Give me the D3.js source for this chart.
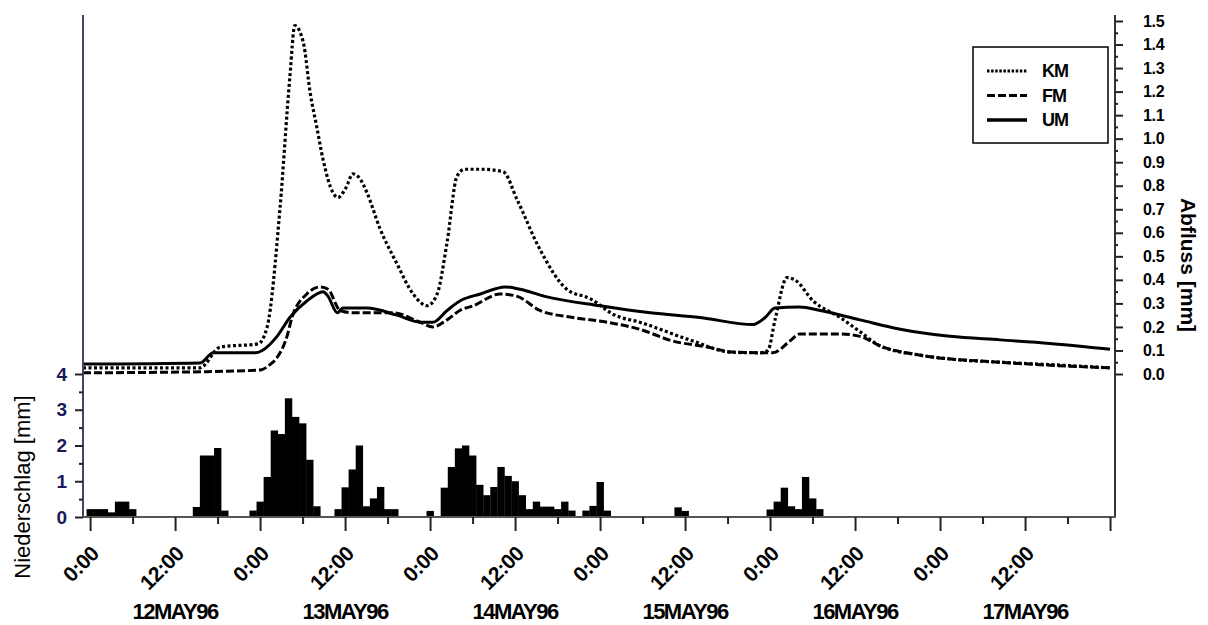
<!DOCTYPE html>
<html>
<head>
<meta charset="utf-8">
<script src="https://cdn.jsdelivr.net/npm/d3@7"></script>
<style>
  body { margin: 0; background: #fff; }
  svg { display: block; font-family: "Liberation Sans", Arial, sans-serif; }
</style>
</head>
<body>
<svg id="chart" width="1208" height="625"></svg>
<script>
// hours are counted from 12MAY96 0:00
const t0 = Date.UTC(1996, 4, 12, 0);
const hour = h => new Date(t0 + h * 3600e3);

// hourly precipitation [mm], hour 0 .. 103
const rain = [
  0.22, 0.22, 0.22, 0.13, 0.43, 0.43, 0.22, 0, 0, 0, 0, 0, 0, 0, 0, 0.28,
  1.72, 1.72, 1.93, 0.18, 0, 0, 0, 0.18, 0.43, 1.12, 2.42, 2.32, 3.32, 2.8,
  2.62, 1.6, 0.3, 0, 0, 0.22, 0.83, 1.33, 2.0, 0.3, 0.52, 0.84, 0.22, 0.22,
  0, 0, 0, 0, 0.17, 0, 0.82, 1.4, 1.92, 2.0, 1.72, 0.9, 0.61, 0.84, 1.4,
  1.15, 1.0, 0.61, 0.22, 0.43, 0.29, 0.29, 0.22, 0.43, 0.18, 0, 0.18, 0.31,
  0.98, 0.18, 0, 0, 0, 0, 0, 0, 0, 0, 0, 0.27, 0.17, 0, 0, 0, 0, 0, 0, 0,
  0, 0, 0, 0, 0.21, 0.43, 0.82, 0.3, 0.22, 1.12, 0.52, 0.22
];

// discharge [mm] as [hour, value]
const km = [
  [-1, 0.026], [15.5, 0.026], [18.4, 0.115], [23.7, 0.128], [25, 0.2], [26.8, 0.7],
  [28.2, 1.26], [28.9, 1.48], [30.1, 1.41], [31.1, 1.19], [32, 1.05], [32.9, 0.91],
  [34.3, 0.77], [35, 0.75], [36.1, 0.79], [37.1, 0.85], [38.1, 0.83], [39.1, 0.77],
  [40.9, 0.62], [43.3, 0.47], [45.6, 0.34], [47.6, 0.29], [49, 0.34], [50.4, 0.56],
  [51.8, 0.84], [52.9, 0.87], [55.1, 0.87], [58.3, 0.86], [60.3, 0.74], [63.5, 0.53],
  [67.3, 0.36], [70.6, 0.32], [74.1, 0.25], [77.6, 0.22], [85.1, 0.14], [90.4, 0.093],
  [94.6, 0.09], [95.7, 0.1], [96.7, 0.23], [98.4, 0.41], [99.5, 0.4], [102.1, 0.31],
  [105.9, 0.24], [108.7, 0.18], [111.5, 0.12], [117.2, 0.08], [122.8, 0.06],
  [128.5, 0.05], [135.5, 0.04], [144, 0.026]
];
const fm = [
  [-1, 0.005], [16.5, 0.01], [24, 0.017], [25.4, 0.04], [26.4, 0.07], [27.8, 0.16],
  [28.5, 0.24], [30.6, 0.34], [32.5, 0.37], [33.6, 0.36], [35.3, 0.27], [37.1, 0.26],
  [42.8, 0.26], [46.6, 0.22], [48.4, 0.2], [50.4, 0.23], [52.2, 0.27], [54.1, 0.29],
  [57.9, 0.34], [60.3, 0.33], [63.5, 0.27], [68.2, 0.24], [73, 0.22], [77.6, 0.19],
  [82.3, 0.14], [87.1, 0.115], [90.8, 0.093], [96.4, 0.09], [98.8, 0.14], [100.2, 0.17],
  [105.9, 0.17], [108.7, 0.16], [111.5, 0.12], [117.2, 0.08], [128.5, 0.05], [144, 0.026]
];
const um = [
  [-1, 0.042], [15.5, 0.047], [17.4, 0.09], [23.3, 0.09], [24.3, 0.1], [26.4, 0.16],
  [28.2, 0.24], [30.6, 0.31], [32.9, 0.35], [33.6, 0.33], [34.9, 0.26], [35.7, 0.28],
  [39.1, 0.28], [43.3, 0.25], [46.6, 0.22], [48.4, 0.22], [50.4, 0.27], [52.2, 0.31],
  [55.1, 0.34], [58.6, 0.37], [60.7, 0.36], [64.2, 0.33], [72, 0.29], [79.1, 0.26],
  [86.1, 0.24], [93.6, 0.21], [95.3, 0.24], [96.7, 0.28], [100.2, 0.285], [103.1, 0.27],
  [108.7, 0.23], [114.4, 0.19], [121.4, 0.16], [128.5, 0.145], [135.5, 0.13], [144, 0.105]
];

const dayLabels = ["12MAY96", "13MAY96", "14MAY96", "15MAY96", "16MAY96", "17MAY96"];
const rainTicks = [0, 1, 2, 3, 4];
const flowTicks = d3.range(0, 16).map(i => i / 10);

const series = [
  { name: "KM", data: km, dash: "3,2.5" },
  { name: "FM", data: fm, dash: "8,3" },
  { name: "UM", data: um, dash: null }
];

const svg = d3.select("#chart");

const x = d3.scaleUtc().domain([hour(-1), hour(144.7)]).range([83, 1115]);
const yRain = d3.scaleLinear().domain([0, 4]).range([517, 374]);
const yFlow = d3.scaleLinear().domain([0, 1.5]).range([374, 21]);

// bars
svg.append("g")
  .selectAll("rect")
  .data(rain.map((v, i) => ({ h: i, v })).filter(d => d.v > 0))
  .join("rect")
    .attr("x", d => x(hour(d.h - 0.5)))
    .attr("width", d => x(hour(d.h + 0.5)) - x(hour(d.h - 0.5)) + 0.3)
    .attr("y", d => yRain(d.v))
    .attr("height", d => yRain(0) - yRain(d.v))
    .attr("fill", "#000");

// discharge lines
const line = d3.line()
  .x(d => x(hour(d[0])))
  .y(d => yFlow(d[1]))
  .curve(d3.curveMonotoneX);

svg.append("g")
  .selectAll("path")
  .data(series)
  .join("path")
    .attr("d", d => line(d.data))
    .attr("fill", "none")
    .attr("stroke", "#000")
    .attr("stroke-width", d => d.name === "KM" ? 3.2 : 3)
    .attr("stroke-dasharray", d => d.dash);

// frame lines
svg.append("line").attr("x1", 83).attr("x2", 83).attr("y1", 15).attr("y2", 518)
  .attr("stroke", "#444466").attr("stroke-width", 2);
svg.append("line").attr("x1", 1115).attr("x2", 1115).attr("y1", 15).attr("y2", 518)
  .attr("stroke", "#333").attr("stroke-width", 2);
svg.append("line").attr("x1", 82).attr("x2", 1116).attr("y1", 517).attr("y2", 517)
  .attr("stroke", "#555").attr("stroke-width", 2);

// left axis
const left = svg.append("g").attr("transform", "translate(83,0)")
  .call(d3.axisLeft(yRain).tickValues(rainTicks).tickSize(8).tickPadding(8).tickFormat(d3.format("d")));
svg.append("g").attr("transform", "translate(83,0)")
  .call(d3.axisLeft(yRain).tickValues([0.5, 1.5, 2.5, 3.5]).tickSize(4).tickFormat(""));

// right axis
const right = svg.append("g").attr("transform", "translate(1115,0)")
  .call(d3.axisRight(yFlow).tickValues(flowTicks).tickSize(8).tickPadding(20).tickFormat(d3.format(".1f")));
svg.append("g").attr("transform", "translate(1115,0)")
  .call(d3.axisRight(yFlow).tickValues(flowTicks.slice(0, 15).map(v => v + 0.05)).tickSize(3).tickFormat(""));

// bottom axis
const allTicks = d3.range(0, 145, 6);
const major = allTicks.filter(h => h % 12 === 0);
const minor = allTicks.filter(h => h % 12 !== 0);
svg.append("g").attr("transform", "translate(0,517)")
  .call(d3.axisBottom(x).tickValues(major.map(hour)).tickSize(14).tickFormat(""));
svg.append("g").attr("transform", "translate(0,517)")
  .call(d3.axisBottom(x).tickValues(minor.map(hour)).tickSize(7).tickFormat(""));

svg.selectAll(".domain").remove();
svg.selectAll(".tick line").attr("stroke", "#222").attr("stroke-width", 2);

left.selectAll("text")
  .attr("fill", "#1a1a5a")
  .style("font-size", "19px")
  .style("font-weight", "bold");
right.selectAll("text")
  .attr("fill", "#000")
  .attr("text-anchor", "start")
  .style("font-size", "16px")
  .style("font-weight", "bold")
  .style("letter-spacing", "-0.3px");

const timeFmt = d3.utcFormat("%-H:%M");
svg.append("g")
  .selectAll("text")
  .data(major.filter(h => h < 144))
  .join("text")
    .attr("transform", h => `translate(${x(hour(h)) + 10},555) rotate(-45)`)
    .attr("text-anchor", "end")
    .style("font-size", "21px")
    .style("font-weight", "bold")
    .style("letter-spacing", "-0.5px")
    .text(h => timeFmt(hour(h)));

svg.append("g")
  .selectAll("text")
  .data(dayLabels)
  .join("text")
    .attr("x", (d, i) => x(hour(i * 24 + 12)))
    .attr("y", 619)
    .attr("text-anchor", "middle")
    .style("font-size", "22px")
    .style("font-weight", "bold")
    .style("letter-spacing", "-1.5px")
    .text(d => d);

// axis titles
svg.append("text")
  .attr("transform", "translate(22,487) rotate(-90)")
  .attr("text-anchor", "middle")
  .attr("dominant-baseline", "central")
  .style("font-size", "22px")
  .text("Niederschlag [mm]");
svg.append("text")
  .attr("transform", "translate(1188,265) rotate(90)")
  .attr("text-anchor", "middle")
  .attr("dominant-baseline", "central")
  .style("font-size", "21px")
  .style("font-weight", "bold")
  .text("Abfluss [mm]");

// legend
const legend = svg.append("g");
legend.append("rect")
  .attr("x", 973).attr("y", 47).attr("width", 135).attr("height", 96)
  .attr("fill", "#fff").attr("stroke", "#000").attr("stroke-width", 1.5);
const rows = legend.selectAll("g.row")
  .data(series)
  .join("g")
    .attr("class", "row")
    .attr("transform", (d, i) => `translate(0,${71 + i * 24.5})`);
rows.append("line")
  .attr("x1", 987).attr("x2", 1027)
  .attr("stroke", "#000")
  .attr("stroke-width", d => d.dash ? 2.8 : 3.5)
  .attr("stroke-dasharray", d => d.name === "KM" ? "2.5,1.6" : d.dash);
rows.append("text")
  .attr("x", 1042)
  .attr("dy", "0.36em")
  .style("font-size", "18px")
  .style("font-weight", "bold")
  .style("letter-spacing", "-1px")
  .text(d => d.name);
</script>
</body>
</html>
